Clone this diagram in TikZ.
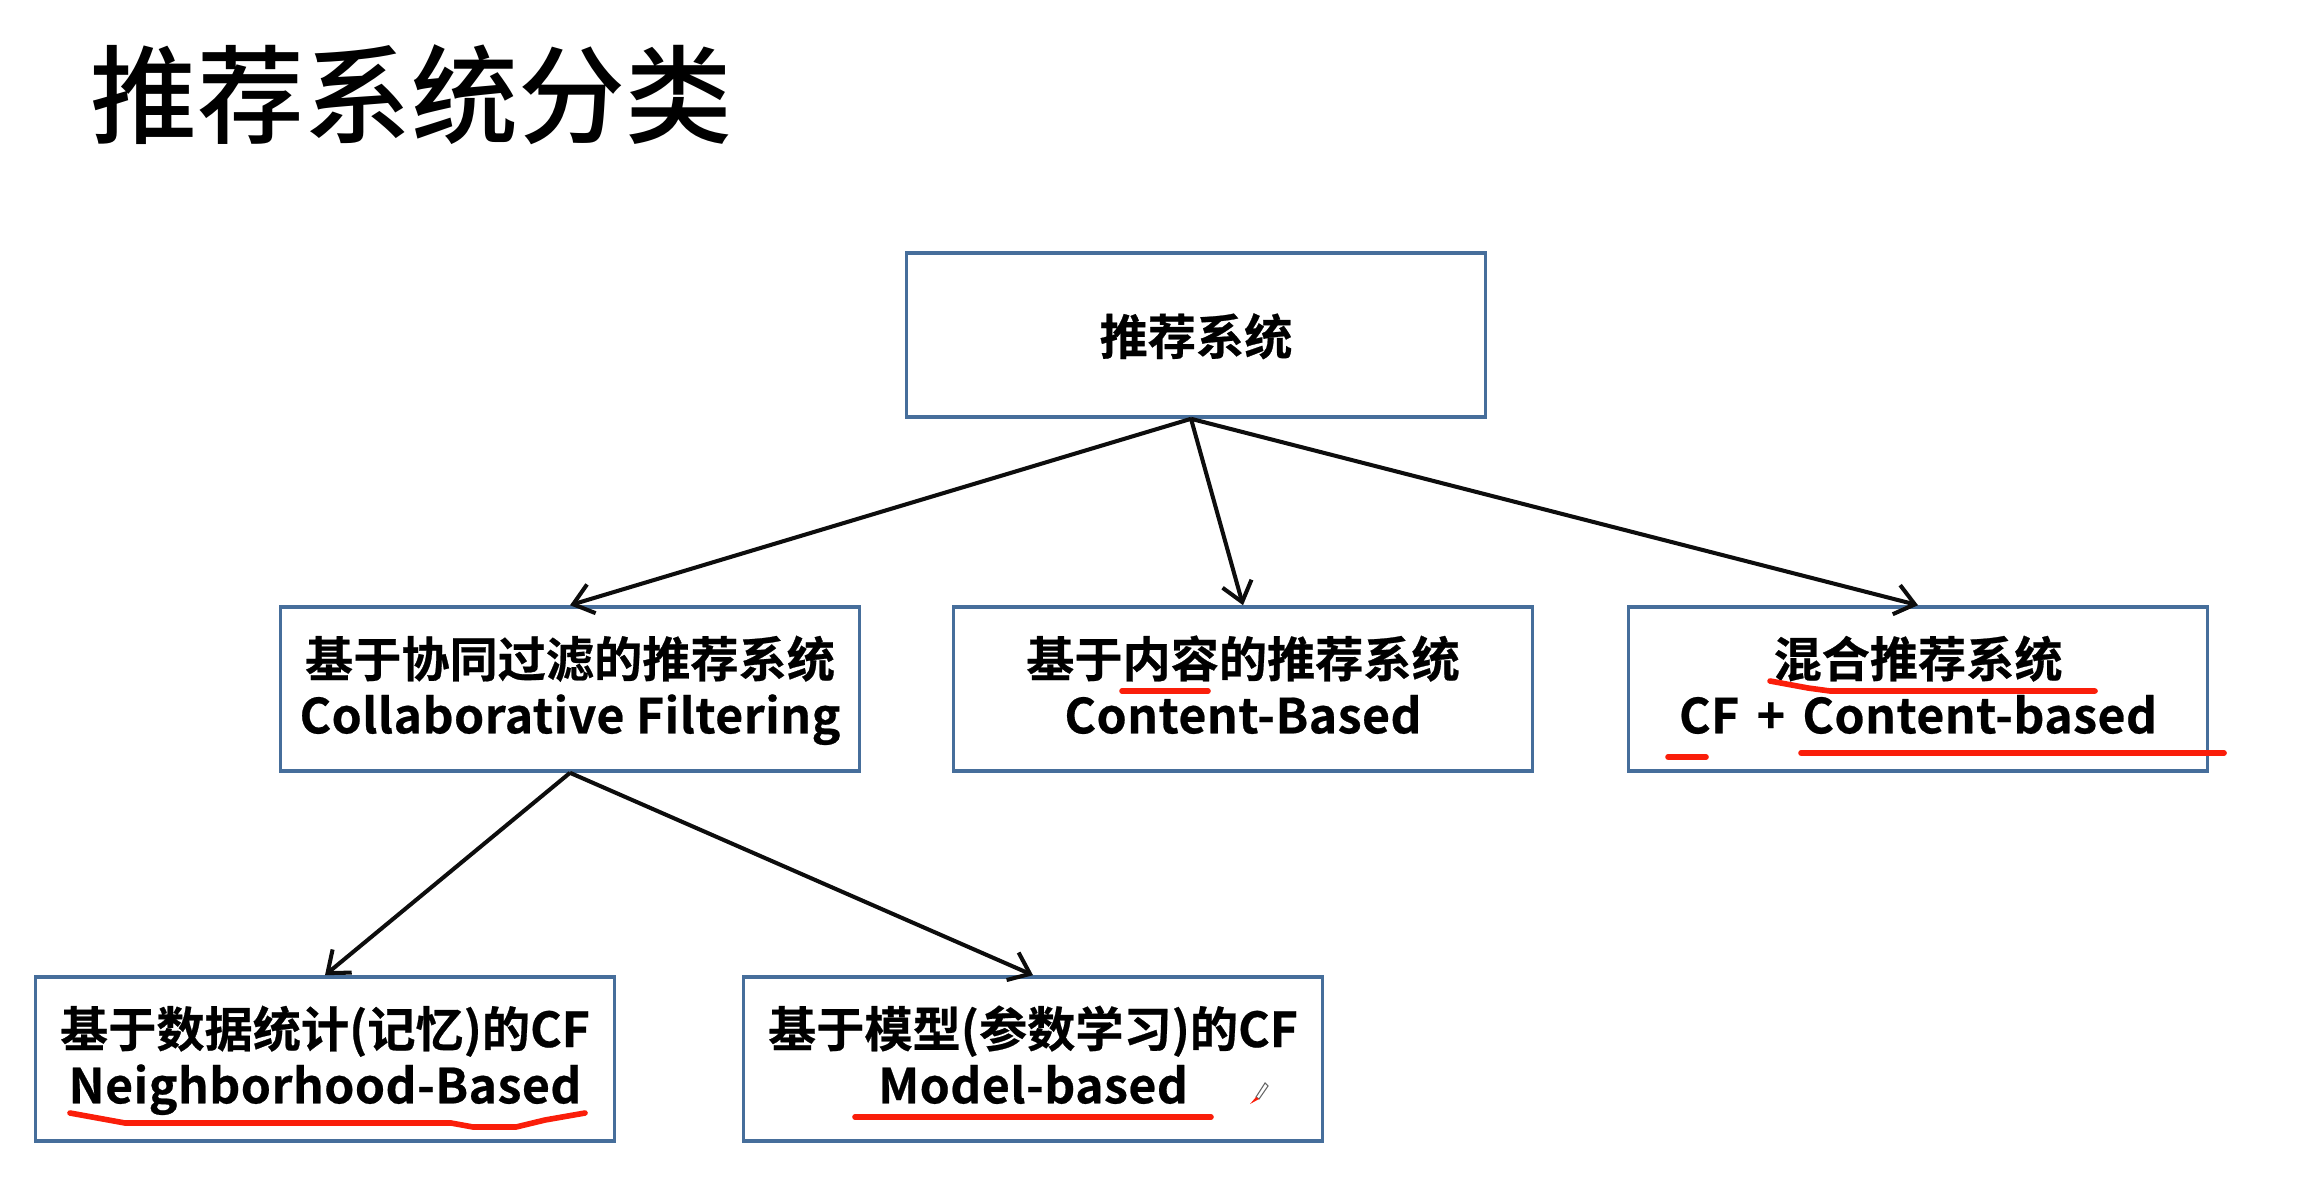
\documentclass[tikz,border=0pt]{standalone}
\usepackage{fontspec}
\usepackage{xcolor}
\setmainfont{Noto Sans CJK SC}[BoldFont={Noto Sans CJK SC Bold},BoldFeatures={FakeBold=0.5}]
\usetikzlibrary{arrows.meta}

\definecolor{boxblue}{RGB}{70,110,155}
\definecolor{penred}{RGB}{250,30,10}

\newcommand{\topstrut}{\rule{0pt}{14pt}}
\newcommand{\boxlines}[2]{\topstrut\strut #1\\\strut\addfontfeature{LetterSpace=1}#2}

\tikzset{
  catbox/.style={draw=boxblue, line width=1pt, minimum width=5.79cm, minimum height=1.64cm,
    inner sep=0pt, align=center, font=\fontsize{13.7}{16}\selectfont\bfseries, text=black},
  branch/.style={line width=1.15pt, black!95, -{Straight Barb[length=1.9mm,width=3mm]}},
  penline/.style={penred, line width=1.6pt, line join=round, line cap=round}
}

\begin{document}
\begin{tikzpicture}[x=0.01cm,y=-0.01cm]
  \useasboundingbox (0,0) rectangle (2310,1191);

  % title
  \node[anchor=west, inner sep=0pt, font=\fontsize{30.4}{36}\selectfont, text=black] (title) at (90,95) {\fontspec{Noto Sans CJK SC Medium}推荐系统分类};

  % boxes
  \node[catbox] (root) at (1196,335) {\rule{0pt}{16pt}\strut 推荐系统};
  \node[catbox] (cf) at (570,689) {\boxlines{基于协同过滤的推荐系统}{Collaborative Filtering}};
  \node[catbox] (content) at (1243,689) {\boxlines{基于内容的推荐系统}{Content-Based}};
  \node[catbox] (hybrid) at (1918,689) {\boxlines{混合推荐系统}{CF\hspace{0.36em}+\hspace{0.36em}Content-based}};
  \node[catbox] (memory) at (325,1059) {\boxlines{基于数据统计(记忆)的CF}{Neighborhood-Based}};
  \node[catbox] (model) at (1033,1059) {\boxlines{基于模型(参数学习)的CF}{Model-based}};

  % arrows
  \draw[branch] ([xshift=-0.05cm]root.south) -- (cf.north);
  \draw[branch] ([xshift=-0.05cm]root.south) -- (content.north);
  \draw[branch] ([xshift=-0.05cm]root.south) -- (hybrid.north);
  \draw[branch] (cf.south) -- (memory.north);
  \draw[branch] (cf.south) -- (model.north);

  % red pen marks
  \draw[penline] (1122,691) -- (1208,691);
  \draw[penline] (1770,681) -- (1808,688) -- (1830,691) -- (2095,691);
  \draw[penline] (1668,757) -- (1706,757);
  \draw[penline] (1801,753) -- (2224,753);
  \draw[penline] (70,1113) -- (125,1123) -- (451,1123) -- (473,1127) -- (516,1127) -- (545,1120) -- (585,1113);
  \draw[penline] (855,1117) -- (1211,1117);

  % pen cursor
  \draw[black!60, line width=0.3pt, fill=white] (1256,1097) -- (1265,1083) -- (1268,1086) -- (1259,1099) -- cycle;
  \fill[penred] (1250,1104) -- (1256,1097) -- (1259,1099) -- cycle;

\end{tikzpicture}
\end{document}
